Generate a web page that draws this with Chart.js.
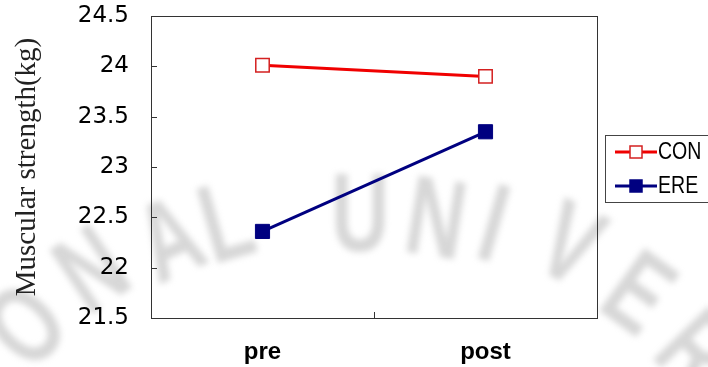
<!DOCTYPE html>
<html>
<head>
<meta charset="utf-8">
<script src="https://cdn.jsdelivr.net/npm/chart.js@4/dist/chart.umd.min.js"></script>
<style>
    html, body { margin: 0; padding: 0; background: #fff; }
    #wrap { width: 708px; height: 367px; position: relative; }
</style>
</head>
<body>
<div id="wrap"><canvas id="strength-chart"></canvas></div>
<script>
// 数据
const phases = ['pre', 'post'];
const conValues = [24.01, 23.90];
const ereValues = [22.36, 23.35];
const yTicks = [21.5, 22, 22.5, 23, 23.5, 24, 24.5];

// 背景水印文字 (字符, 中心x, 中心y, 角度)
const watermark = [
    ['O', 30, 330, -45], ['N', 95, 275, -34], ['A', 172, 245, -24], ['L', 228, 228, -16],
    ['U', 360, 220, 0], ['N', 435, 225, 9], ['I', 492, 230, 16], ['V', 568, 250, 26],
    ['E', 635, 298, 36], ['R', 692, 355, 46]
];

// 水印
const watermarkPlugin = {
    id: 'watermark',
    beforeDraw(chart) {
        const ctx = chart.ctx;
        ctx.save();
        ctx.filter = 'blur(3px)';
        ctx.fillStyle = 'rgba(160,160,160,0.42)';
        ctx.font = 'bold 112px "Liberation Sans"';
        ctx.textAlign = 'center';
        ctx.textBaseline = 'middle';
        watermark.forEach(([ch, x, y, a]) => {
            ctx.save();
            ctx.translate(x, y);
            ctx.rotate(a * Math.PI / 180);
            ctx.scale(0.72, 1);
            ctx.fillText(ch, 0, 0);
            ctx.restore();
        });
        ctx.restore();
    }
};

// 坐标框和内侧刻度
const framePlugin = {
    id: 'frame',
    beforeDatasetsDraw(chart) {
        const { ctx, chartArea: a, scales } = chart;
        ctx.save();
        ctx.strokeStyle = '#333';
        ctx.lineWidth = 1;
        ctx.strokeRect(Math.round(a.left) + 0.5, Math.round(a.top) + 0.5,
            Math.round(a.right - a.left), Math.round(a.bottom - a.top));
        ctx.beginPath();
        yTicks.forEach(v => {
            const y = Math.round(scales.y.getPixelForValue(v)) + 0.5;
            ctx.moveTo(a.left, y);
            ctx.lineTo(a.left + 6, y);
        });
        const xm = Math.round((scales.x.getPixelForValue(0) + scales.x.getPixelForValue(1)) / 2) + 0.5;
        ctx.moveTo(xm, a.bottom);
        ctx.lineTo(xm, a.bottom - 6);
        ctx.stroke();
        ctx.restore();
    }
};

// 右侧图例
const legendPlugin = {
    id: 'sideLegend',
    afterDraw(chart) {
        const ctx = chart.ctx;
        ctx.save();
        ctx.fillStyle = '#fff';
        ctx.fillRect(605, 135, 110, 67);
        ctx.strokeStyle = '#444';
        ctx.lineWidth = 1;
        ctx.strokeRect(605.5, 135.5, 110, 67);
        ctx.textBaseline = 'middle';
        chart.data.datasets.forEach((ds, i) => {
            const y = 152 + i * 34;
            ctx.strokeStyle = ds.borderColor;
            ctx.lineWidth = 3;
            ctx.beginPath();
            ctx.moveTo(615, y);
            ctx.lineTo(657, y);
            ctx.stroke();
            ctx.fillStyle = ds.pointBackgroundColor;
            ctx.fillRect(630, y - 6, 12, 12);
            ctx.strokeStyle = ds.pointBorderColor;
            ctx.lineWidth = 1.5;
            ctx.strokeRect(630, y - 6, 12, 12);
            ctx.save();
            ctx.translate(658, y + 1);
            ctx.scale(0.85, 1);
            ctx.font = '23px "Liberation Sans"';
            ctx.fillStyle = '#000';
            ctx.fillText(ds.label, 0, 0);
            ctx.restore();
        });
        ctx.restore();
    }
};

const ctx = document.getElementById('strength-chart').getContext('2d');

new Chart(ctx, {
    type: 'line',
    data: {
        labels: phases,
        datasets: [
            {
                label: 'CON',
                data: conValues,
                borderColor: '#f00000',
                borderWidth: 3,
                pointStyle: 'rect',
                pointRadius: 9.5,
                pointBackgroundColor: '#fff',
                pointBorderColor: '#d42020',
                pointBorderWidth: 1.5,
                tension: 0
            },
            {
                label: 'ERE',
                data: ereValues,
                borderColor: '#000080',
                borderWidth: 3,
                pointStyle: 'rect',
                pointRadius: 10,
                pointBackgroundColor: '#000080',
                pointBorderColor: '#000080',
                pointBorderWidth: 1,
                tension: 0
            }
        ]
    },
    options: {
        responsive: true,
        maintainAspectRatio: false,
        animation: false,
        layout: { padding: { left: 0, top: 0, right: 111, bottom: 0 } },
        plugins: {
            legend: { display: false },
            tooltip: { enabled: false }
        },
        scales: {
            x: {
                type: 'category',
                offset: true,
                grid: { display: false, drawTicks: false },
                border: { display: false },
                ticks: {
                    color: '#000',
                    padding: 20,
                    font: { family: '"Liberation Sans"', size: 24, weight: 'bold' }
                },
                afterFit(scale) {
                    scale.height = 49;
                    scale.paddingLeft = 0;
                    scale.paddingRight = 0;
                }
            },
            y: {
                min: 21.5,
                max: 24.5,
                afterBuildTicks(scale) { scale.ticks = yTicks.map(v => ({ value: v })); },
                grid: { display: false, drawTicks: false },
                border: { display: false },
                ticks: {
                    color: '#000',
                    padding: 22,
                    font: { family: '"DejaVu Sans"', size: 23 },
                    callback: v => String(v)
                },
                title: {
                    display: true,
                    text: 'Muscular strength(kg)',
                    color: '#222',
                    padding: { top: 10, bottom: 0 },
                    font: { family: '"Liberation Serif"', size: 29 }
                },
                afterFit(scale) {
                    scale.width = 151;
                    scale.paddingTop = 16;
                    scale.paddingBottom = 0;
                }
            }
        }
    },
    plugins: [watermarkPlugin, framePlugin, legendPlugin]
});
</script>
</body>
</html>
